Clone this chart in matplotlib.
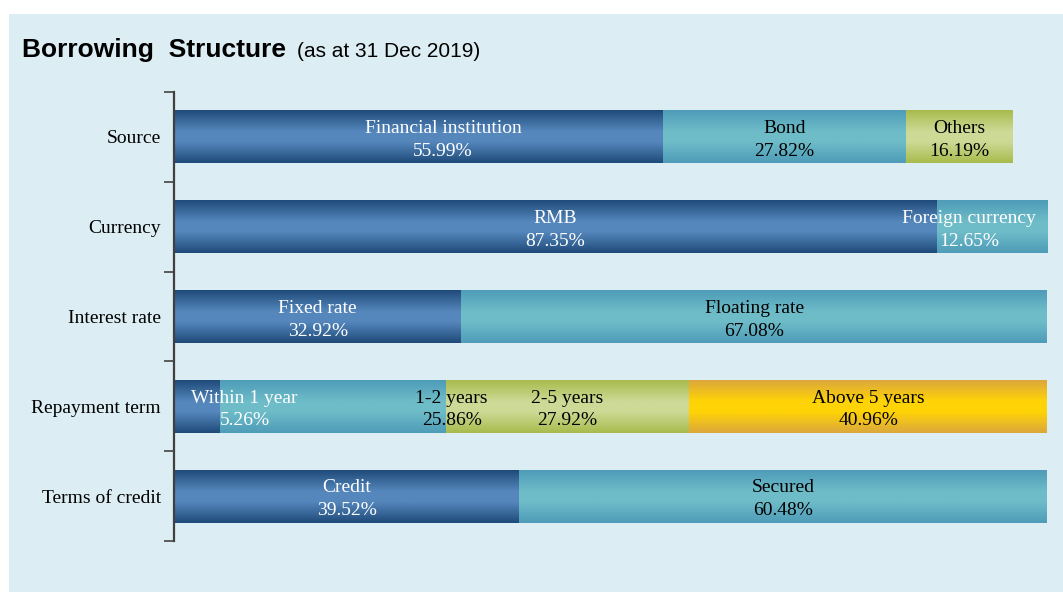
import numpy as np
import matplotlib
matplotlib.use("Agg")
import matplotlib.pyplot as plt
from matplotlib.colors import to_rgb
from matplotlib.patches import Rectangle

# data
categories = ["Source", "Currency", "Interest rate", "Repayment term", "Terms of credit"]

source_names = ["Financial institution", "Bond", "Others"]
source_pct = [55.99, 27.82, 16.19]
source_len = [55.99, 27.82, 12.20]   # the Others bar is drawn shorter than its label in the original

currency_names = ["RMB", "Foreign currency"]
currency_pct = [87.35, 12.65]

rate_names = ["Fixed rate", "Floating rate"]
rate_pct = [32.92, 67.08]

term_names = ["Within 1 year", "1-2 years", "2-5 years", "Above 5 years"]
term_pct = [5.26, 25.86, 27.92, 40.96]

credit_names = ["Credit", "Secured"]
credit_pct = [39.52, 60.48]

rows = [
    (source_names, source_pct, source_len),
    (currency_names, currency_pct, currency_pct),
    (rate_names, rate_pct, rate_pct),
    (term_names, term_pct, term_pct),
    (credit_names, credit_pct, credit_pct),
]

# (edge, middle) colours of the shaded bars
shades = [("#1f4b7a", "#5587bc"),
          ("#4e9cb8", "#6ebcc8"),
          ("#a8bb4c", "#cdda96"),
          ("#dca83c", "#ffd406")]

# labels that sit off the segment centre in the original
label_x = {"Financial institution": 30.8, "Foreign currency": 91.1,
           "Within 1 year": 8.1, "1-2 years": 31.8}
white_labels = {"Financial institution", "RMB", "Foreign currency",
                "Fixed rate", "Within 1 year", "Credit"}

W, H = 1063, 592
fig = plt.figure(figsize=(W / 100, H / 100), dpi=100, facecolor="white")
fig.patches.append(Rectangle((9 / W, 0), 1 - 9 / W, 1 - 14 / H, transform=fig.transFigure,
                             facecolor="#dceef4", edgecolor="none", zorder=-5))

ax = fig.add_axes([174 / W, 1 - 541 / H, (1047 - 174) / W, (541 - 92) / H])
ax.set_facecolor("none")

bar_h = 0.59
t = np.linspace(0, 1, 64)
prof = np.interp(t, [0, 0.40, 0.60, 1], [0, 1, 1, 0])

serif = "Liberation Serif"

for i, (names, pct, lens) in enumerate(rows):
    left = 0
    for j, (name, p, w) in enumerate(zip(names, pct, lens)):
        edge, mid = np.array(to_rgb(shades[j][0])), np.array(to_rgb(shades[j][1]))
        grad = edge + (mid - edge) * prof[:, None]
        bars = ax.barh(i, w, left=left, height=bar_h, color=mid, linewidth=0, zorder=1)
        b = bars[0]
        ax.imshow(grad[:, None, :], extent=(b.get_x(), b.get_x() + b.get_width(),
                                            b.get_y() + b.get_height(), b.get_y()),
                  aspect="auto", interpolation="bilinear", zorder=2)
        cx = label_x.get(name, left + w / 2)
        ax.text(cx, i + 0.035, f"{name}\n{p:.2f}%", ha="center", va="center",
                fontsize=14, family=serif, linespacing=1.45, zorder=3,
                color="white" if name in white_labels else "black")
        left += w

ax.set_xlim(0, 100)
ax.set_ylim(4.5, -0.5)
ax.set_xticks([])
ax.set_yticks(np.arange(-0.5, 5, 1))
ax.set_yticklabels([])
ax.set_yticks(range(len(categories)), minor=True)
ax.set_yticklabels(categories, minor=True, fontsize=14, family=serif)
ax.tick_params(axis="y", which="major", length=7, width=1.3, color="#505050")
ax.tick_params(axis="y", which="minor", length=0, pad=9.5)
for s in ["top", "right", "bottom"]:
    ax.spines[s].set_visible(False)
ax.spines["left"].set_color("#404040")
ax.spines["left"].set_linewidth(1.6)

fig.text(22 / W, 1 - 57 / H, "Borrowing  Structure", fontsize=19, fontweight="bold",
         family="Liberation Sans", va="baseline")
fig.text(297 / W, 1 - 57 / H, "(as at 31 Dec 2019)", fontsize=15,
         family="Liberation Sans", va="baseline")

fig.savefig("out.png", dpi=100, facecolor=fig.get_facecolor())
